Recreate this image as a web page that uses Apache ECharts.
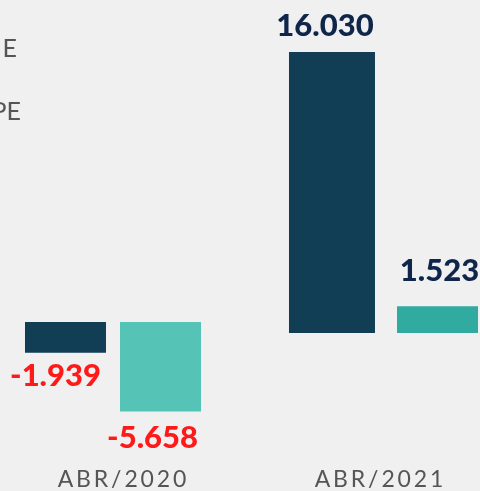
<!DOCTYPE html>
<html>
<head>
<meta charset="utf-8">
<script src="https://cdn.jsdelivr.net/npm/echarts@6/dist/echarts.min.js"></script>
<style>
  html, body { margin: 0; padding: 0; background: #f0f0f0; }
  #chart { width: 480px; height: 491px; }
</style>
</head>
<body>
<div id="chart"></div>
<script>
// values (pt-BR thousands)
const categories = ['ABR/2020', 'ABR/2021'];
const navyValues = [-1939, 16030];
const tealValues = [-5658, 1523];
const legendBits = ['E', 'PE'];

const NAVY = '#113d55';
const TEAL_2020 = '#55c4b6';
const TEAL_2021 = '#31ab9f';

// 16030 -> "16.030"
const fmt = (p) => {
  const v = p.value;
  const s = Math.abs(v).toString().replace(/\B(?=(\d{3})+(?!\d))/g, '.');
  return (v < 0 ? '-' : '') + s;
};
// spread letters like the original slide
const spaced = (s) => s.split('').join('\u2009');

const labelBase = { show: true, formatter: fmt, fontFamily: 'Lato', fontWeight: 900, fontSize: 31 };
const axisLabelBase = { color: '#555', fontFamily: 'Lato', fontSize: 23, formatter: spaced };

const chart = echarts.init(document.getElementById('chart'));
chart.setOption({
  backgroundColor: '#f0f0f0',
  animation: false,
  grid: [
    { left: 0, width: 226, top: 322, height: 96 },
    { left: 287, width: 193, top: 52, height: 282 }
  ],
  xAxis: [
    {
      type: 'category', gridIndex: 0, data: [categories[0]],
      axisLine: { show: false, onZero: false }, axisTick: { show: false },
      axisLabel: Object.assign({}, axisLabelBase, { margin: 51, padding: [0, 0, 0, 18] })
    },
    {
      type: 'category', gridIndex: 1, data: [categories[1]],
      axisLine: { show: false, onZero: false }, axisTick: { show: false },
      axisLabel: Object.assign({}, axisLabelBase, { margin: 135, padding: [0, 9, 0, 0] })
    }
  ],
  yAxis: [
    { type: 'value', gridIndex: 0, min: -6000, max: 0, show: false },
    { type: 'value', gridIndex: 1, min: 0, max: 16000, show: false }
  ],
  graphic: legendBits.map((t, i) => ({
    type: 'text',
    x: i === 0 ? 17 : 21,
    y: i === 0 ? 49 : 112,
    style: {
      text: t, align: 'right', verticalAlign: 'middle',
      fill: '#555', fontFamily: 'Lato', fontSize: 25
    }
  })),
  series: [
    {
      type: 'bar', xAxisIndex: 0, yAxisIndex: 0, data: [navyValues[0]],
      barWidth: 81, barGap: '17.3%', itemStyle: { color: NAVY },
      label: Object.assign({}, labelBase, { position: 'bottom', distance: 8, offset: [-10, 0], color: '#ff1a1a' })
    },
    {
      type: 'bar', xAxisIndex: 0, yAxisIndex: 0, data: [tealValues[0]],
      barWidth: 81, barGap: '17.3%', itemStyle: { color: TEAL_2020 },
      label: Object.assign({}, labelBase, { position: 'bottom', distance: 11, offset: [-8, 0], color: '#ff1a1a' })
    },
    {
      type: 'bar', xAxisIndex: 1, yAxisIndex: 1, data: [navyValues[1]],
      barWidth: 86, barGap: '25.6%', itemStyle: { color: NAVY },
      label: Object.assign({}, labelBase, { position: 'top', distance: 11, offset: [-7, 0], color: '#0f2549' })
    },
    {
      type: 'bar', xAxisIndex: 1, yAxisIndex: 1, data: [tealValues[1]],
      barWidth: 81, barGap: '25.6%', itemStyle: { color: TEAL_2021 },
      label: Object.assign({}, labelBase, { position: 'top', distance: 20, offset: [2, 0], color: '#0f2549' })
    }
  ]
});
</script>
</body>
</html>
